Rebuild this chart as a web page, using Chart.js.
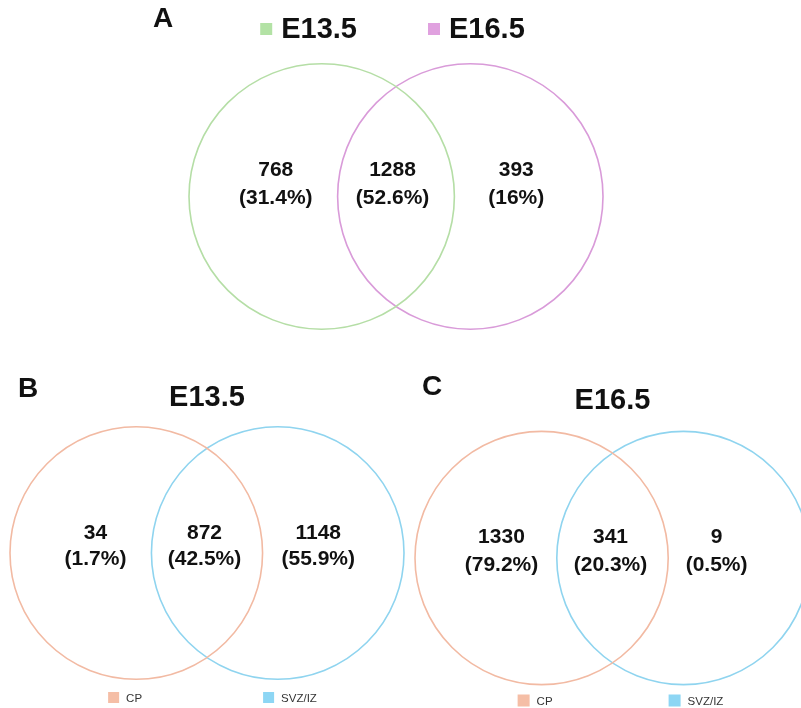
<!DOCTYPE html>
<html>
<head>
<meta charset="utf-8">
<title>Venn diagrams</title>
<script src="https://cdn.jsdelivr.net/npm/chart.js@4.4.1/dist/chart.umd.min.js"></script>
<style>
  html, body { margin: 0; padding: 0; background: #fff; overflow: hidden; width: 801px; height: 708px; }
  canvas { position: absolute; }
</style>
</head>
<body>
<canvas id="chartA" width="512" height="345" style="left:140px;top:0px"></canvas>
<canvas id="chartB" width="414" height="348" style="left:0px;top:360px"></canvas>
<canvas id="chartC" width="415" height="348" style="left:405px;top:360px"></canvas>
<script>
// A: E13.5 vs E16.5
var setsA = ['E13.5', 'E16.5'];
var countsA = [768, 1288, 393];
var pctA = ['31.4%', '52.6%', '16%'];

// B: E13.5, CP vs SVZ/IZ
var setsB = ['CP', 'SVZ/IZ'];
var countsB = [34, 872, 1148];
var pctB = ['1.7%', '42.5%', '55.9%'];

// C: E16.5, CP vs SVZ/IZ
var setsC = ['CP', 'SVZ/IZ'];
var countsC = [1330, 341, 9];
var pctC = ['79.2%', '20.3%', '0.5%'];

// circle layout: radius 1, centers at +-SEP
var SEP = 0.56;
var FONT = '"Liberation Sans", Arial, Helvetica, sans-serif';

// draws region counts, the legend and the panel letter
var vennText = {
    id: 'vennText',
    afterDatasetsDraw: function (chart, args, o) {
        var ctx = chart.ctx;
        var x = chart.scales.x, y = chart.scales.y;
        ctx.save();
        ctx.fillStyle = '#111';
        ctx.textAlign = 'center';
        ctx.textBaseline = 'middle';
        ctx.font = 'bold 21px ' + FONT;
        o.counts.forEach(function (n, i) {
            var px = x.getPixelForValue(o.regionX[i]);
            var py = y.getPixelForValue(o.labelY);
            ctx.fillText(String(n), px, py - o.lineGap / 2);
            ctx.fillText('(' + o.pct[i] + ')', px, py + o.lineGap / 2);
        });

        // legend
        var lg = o.legend;
        ctx.font = lg.font;
        var widths = chart.data.datasets.map(function (ds) {
            return lg.box + lg.gap + ctx.measureText(ds.label).width;
        });
        var total = widths.reduce(function (a, b) { return a + b; }, 0) + lg.itemGap * (widths.length - 1);
        var cx = lg.x - total / 2;
        ctx.textAlign = 'left';
        chart.data.datasets.forEach(function (ds, i) {
            ctx.fillStyle = lg.colors[i];
            ctx.fillRect(cx, lg.y - lg.box / 2, lg.box, lg.box);
            ctx.fillStyle = lg.color;
            ctx.fillText(ds.label, cx + lg.box + lg.gap, lg.y + 1);
            cx += widths[i] + lg.itemGap;
        });

        // panel letter
        ctx.fillStyle = '#111';
        ctx.font = 'bold 28px ' + FONT;
        ctx.fillText(o.letter, o.letterX, o.letterY);
        ctx.restore();
    }
};

function vennChart(id, sets, lineColors, title, padding, text) {
    return new Chart(document.getElementById(id), {
        type: 'scatter',
        data: {
            datasets: sets.map(function (name, i) {
                return {
                    label: name,
                    data: [{ x: i === 0 ? -SEP : SEP, y: 0 }],
                    pointBorderColor: lineColors[i],
                    pointBackgroundColor: 'rgba(0,0,0,0)',
                    pointBorderWidth: 1.6,
                    pointRadius: function (c) {
                        var s = c.chart.scales.x;
                        return s.getPixelForValue(1) - s.getPixelForValue(0);
                    },
                    clip: false
                };
            })
        },
        options: {
            responsive: false,
            animation: false,
            events: [],
            layout: { padding: padding },
            scales: {
                x: { type: 'linear', min: -(SEP + 1), max: SEP + 1, display: false },
                y: { type: 'linear', min: -1, max: 1, display: false }
            },
            plugins: {
                legend: { display: false },
                tooltip: { enabled: false },
                title: title,
                vennText: text
            }
        },
        plugins: [vennText]
    });
}

vennChart('chartA', setsA, ['#b5dea6', '#d99bd9'],
    { display: false },
    { left: 49, right: 49, top: 63.5, bottom: 15.5 },
    {
        counts: countsA, pct: pctA,
        regionX: [-0.906, -0.026, 0.906], labelY: 0.09, lineGap: 28,
        letter: 'A', letterX: 13, letterY: 19,
        legend: {
            x: 252.5, y: 29, box: 12, gap: 9, itemGap: 71,
            font: 'bold 29px ' + FONT, color: '#111',
            colors: ['#b3e2a5', '#e0a1df']
        }
    });

vennChart('chartB', setsB, ['#f2baa3', '#8fd4ef'],
    {
        display: true, text: 'E13.5', color: '#111',
        font: { family: FONT, size: 29, weight: 'bold', lineHeight: 1.2 },
        padding: { top: 20.6, bottom: 11.6 }
    },
    { left: 10, right: 10, top: 0, bottom: 29 },
    {
        counts: countsB, pct: pctB,
        regionX: [-0.883, -0.02, 0.881], labelY: 0.052, lineGap: 26.5,
        letter: 'B', letterX: 18, letterY: 29,
        legend: {
            x: 212.5, y: 337.5, box: 11, gap: 7, itemGap: 121,
            font: '11.5px ' + FONT, color: '#333',
            colors: ['#f5bea6', '#8dd6f4']
        }
    });

vennChart('chartC', setsC, ['#f2baa3', '#8fd4ef'],
    {
        display: true, text: 'E16.5', color: '#111',
        font: { family: FONT, size: 29, weight: 'bold', lineHeight: 1.2 },
        padding: { top: 23.6, bottom: 13.6 }
    },
    { left: 10, right: 10, top: 0, bottom: 24 },
    {
        counts: countsC, pct: pctC,
        regionX: [-0.877, -0.016, 0.822], labelY: 0.055, lineGap: 27.5,
        letter: 'C', letterX: 17, letterY: 27.5,
        legend: {
            x: 215.5, y: 340.5, box: 12, gap: 7, itemGap: 116,
            font: '11.5px ' + FONT, color: '#333',
            colors: ['#f5bea6', '#8dd6f4']
        }
    });
</script>
</body>
</html>
